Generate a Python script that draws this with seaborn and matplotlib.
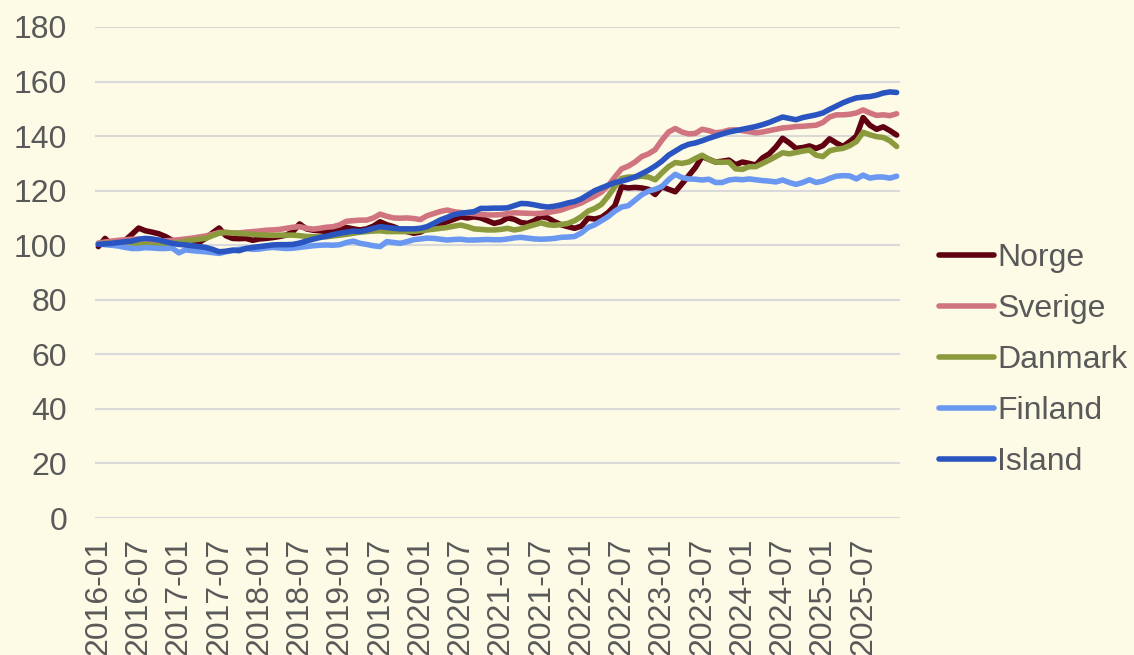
import pandas as pd
import matplotlib
matplotlib.use('Agg')
import matplotlib.pyplot as plt
import seaborn as sns

months = pd.period_range('2016-01', '2025-12', freq='M').strftime('%Y-%m').tolist()

norge = [
    99.5, 102.5, 100.0, 101.5, 101.8, 104.0, 106.3, 105.3, 104.8, 104.2, 103.2, 101.8,
    101.0, 100.5, 100.3, 101.0, 102.5, 104.5, 106.3, 103.5, 102.5, 102.4, 102.5, 101.8,
    102.3, 102.5, 102.8, 103.2, 103.7, 105.0, 107.8, 106.0, 105.5, 105.3, 105.0, 105.2,
    106.0, 106.5, 106.0, 105.6, 106.0, 107.0, 108.6, 107.5, 106.8, 105.8, 105.0, 104.4,
    104.8, 106.0, 106.8, 107.8, 108.6, 109.5, 110.4, 110.0, 110.4, 110.0, 109.0, 108.0,
    108.6, 110.0, 109.5, 108.3, 108.0, 109.0, 110.5, 110.0, 108.6, 107.5, 106.8, 106.2,
    107.0, 109.9, 109.6, 110.2, 112.0, 114.5, 121.4, 121.0, 121.2, 121.0, 120.5, 118.6,
    121.5, 120.5, 119.6, 122.5, 125.5, 128.5, 132.5, 131.5, 130.5, 130.8, 131.2, 129.5,
    130.5, 130.0, 129.4, 132.0, 133.5, 136.0, 139.2, 137.5, 135.5, 135.8, 136.4, 135.5,
    136.5, 139.0, 137.5, 136.2, 138.0, 140.0, 146.8, 144.0, 142.5, 143.4, 142.0, 140.4,
]
sverige = [
    100.8, 101.2, 101.5, 101.8, 102.0, 102.2, 102.2, 102.0, 101.8, 101.6, 101.6, 101.8,
    102.0, 102.3, 102.6, 103.0, 103.4, 104.0, 104.7, 104.7, 104.5, 104.5, 104.8, 105.0,
    105.2, 105.5, 105.6, 105.8, 106.2, 106.6, 106.8, 106.2, 105.9, 106.2, 106.6, 106.8,
    107.5, 108.8, 109.0, 109.2, 109.2, 110.0, 111.4, 110.6, 110.0, 109.9, 110.0, 109.8,
    109.4, 110.8, 111.6, 112.4, 112.9, 112.3, 112.0, 111.8, 111.6, 111.3, 111.1, 111.1,
    111.2, 111.6, 111.9, 111.8, 111.7, 111.6, 111.7, 112.0, 112.4, 112.9, 113.8, 114.6,
    115.5, 116.8, 118.0, 119.5, 121.8, 125.0, 128.0, 129.0, 130.5, 132.5, 133.5, 135.0,
    138.5, 141.5, 142.8, 141.5, 140.8, 141.0, 142.5, 142.0, 141.2, 141.5, 142.2, 142.3,
    142.0, 141.6, 141.2, 141.5, 142.0, 142.5, 143.0, 143.2, 143.5, 143.6, 143.8, 144.0,
    145.0, 147.0, 147.8, 147.8, 148.0, 148.5, 149.6, 148.5, 147.6, 147.8, 147.5, 148.2,
]
danmark = [
    100.5, 100.7, 100.7, 100.8, 100.8, 100.8, 100.5, 100.3, 100.0, 99.8, 100.3, 100.7,
    101.0, 101.5, 101.9, 102.2, 102.5, 103.5, 104.4, 104.7, 104.5, 104.3, 104.2, 104.0,
    103.8, 103.7, 103.6, 103.7, 103.7, 103.7, 103.5, 103.2, 103.1, 103.1, 103.1, 103.4,
    103.7, 104.0, 104.4, 104.8, 105.0, 105.2, 105.3, 105.0, 105.0, 105.0, 105.0, 105.1,
    105.3, 105.6, 105.9, 106.2, 106.5, 107.0, 107.4, 106.8, 106.0, 105.8, 105.6, 105.6,
    105.8, 106.2, 105.6, 106.0, 106.8, 107.5, 108.2, 107.5, 107.3, 107.6, 108.0, 109.0,
    110.5, 112.5, 113.5, 115.0, 118.0, 121.5, 124.5, 125.0, 125.0, 125.3, 125.0, 124.0,
    126.5, 128.8, 130.3, 130.0, 130.5, 131.8, 133.0, 131.5, 130.5, 130.4, 130.5, 128.0,
    127.8, 128.8, 128.8, 130.0, 131.2, 132.5, 133.9, 133.5, 134.0, 134.5, 134.9, 133.0,
    132.5, 134.6, 135.2, 135.5, 136.5, 138.0, 141.4, 140.5, 139.8, 139.5, 138.3, 136.2,
]
finland = [
    100.4, 100.2, 100.0, 99.7, 99.2, 98.8, 98.8, 99.1, 99.0, 98.8, 98.8, 99.0,
    97.2, 98.3, 98.0, 97.8, 97.6, 97.3, 97.0, 97.6, 98.0, 98.5, 98.8, 98.5,
    98.6, 99.0, 99.2, 99.0, 98.8, 98.9, 99.2, 99.5, 99.8, 100.0, 100.1, 100.0,
    100.2, 101.0, 101.5, 100.7, 100.3, 99.8, 99.5, 101.3, 101.0, 100.7, 101.3, 102.0,
    102.3, 102.6, 102.5, 102.2, 101.9, 102.1, 102.2, 101.9, 101.9, 102.0, 102.1, 102.0,
    102.0, 102.3, 102.7, 102.9, 102.6, 102.3, 102.2, 102.3, 102.5, 102.9, 103.0, 103.2,
    104.5, 106.5, 107.5, 109.0, 110.5, 112.5, 114.0, 114.5, 116.5, 118.5, 119.8, 120.5,
    121.5, 124.0, 126.0, 124.8, 124.3, 124.2, 123.9, 124.2, 123.0, 123.0, 123.9, 124.2,
    124.0, 124.3, 124.0, 123.7, 123.5, 123.2, 123.9, 123.0, 122.3, 123.0, 124.0, 123.0,
    123.5, 124.5, 125.3, 125.5, 125.4, 124.3, 125.7, 124.6, 125.0, 125.0, 124.6, 125.3,
]
island = [
    100.3, 100.5, 100.7, 101.0, 101.3, 101.5, 102.2, 102.5, 102.3, 101.9, 101.3, 100.7,
    100.3, 100.1, 99.8, 99.5, 99.2, 98.5, 97.6, 97.8, 98.2, 98.0, 98.8, 99.2,
    99.5, 99.8, 100.1, 100.2, 100.2, 100.3, 100.8, 101.5, 102.2, 102.8, 103.3, 103.9,
    104.4, 104.8, 105.2, 105.0, 105.5, 106.2, 106.8, 106.5, 106.2, 106.0, 106.0, 106.0,
    106.2, 106.8, 108.0, 109.3, 110.2, 111.2, 111.7, 112.0, 112.3, 113.5, 113.5, 113.6,
    113.6, 113.7, 114.5, 115.3, 115.2, 114.8, 114.3, 114.0, 114.3, 114.8, 115.5, 116.0,
    117.0, 118.5, 120.0, 121.0, 122.0, 123.0, 123.5, 124.2, 125.0, 126.2, 127.5, 129.0,
    130.8, 133.0, 134.5, 136.0, 137.0, 137.5, 138.3, 139.2, 140.0, 140.8, 141.5, 142.0,
    142.5, 143.0, 143.5, 144.2, 145.0, 146.0, 147.0, 146.5, 146.0, 146.8, 147.3, 147.8,
    148.5, 149.8, 151.0, 152.2, 153.2, 154.0, 154.3, 154.5, 155.0, 155.8, 156.2, 156.0,
]

countries = ['Norge', 'Sverige', 'Danmark', 'Finland', 'Island']
colors = ['#600010', '#D07580', '#8B9A3C', '#6A97F0', '#2A55C0']

df = pd.DataFrame({'month': months, 'Norge': norge, 'Sverige': sverige,
                   'Danmark': danmark, 'Finland': finland, 'Island': island})
df['pos'] = range(len(df))
long_df = df.melt(id_vars=['month', 'pos'], var_name='land', value_name='index')

bg = '#FDFBE6'
text_col = '#595959'
fs = 23
sns.set_theme(style='white')
plt.rcParams['font.family'] = ['Liberation Sans', 'DejaVu Sans']

fig = plt.figure(figsize=(11.34, 6.55), dpi=100, facecolor=bg)
ax = fig.add_axes([95 / 1134, 1 - 518 / 655, 805 / 1134, 491 / 655])
ax.set_facecolor(bg)

sns.lineplot(data=long_df, x='pos', y='index', hue='land', hue_order=countries,
             palette=dict(zip(countries, colors)), linewidth=4.0, ax=ax, legend=False,
             solid_joinstyle='round', solid_capstyle='round')

ax.set_xlim(-0.5, len(months) - 0.5)
ax.set_ylim(0, 180)
ax.set_yticks(range(0, 181, 20))
ax.yaxis.grid(True, color='#D9D9D9', linewidth=1.5)
ax.set_axisbelow(True)
for s in ax.spines.values():
    s.set_visible(False)

tick_pos = list(range(0, len(months), 6))
ax.set_xticks(tick_pos)
ax.set_xticklabels([months[i] for i in tick_pos], rotation=90)
ax.tick_params(axis='x', length=0, pad=14, labelsize=fs, labelcolor=text_col)
ax.tick_params(axis='y', length=0, pad=20, labelsize=fs, labelcolor=text_col)
ax.set_xlabel('')
ax.set_ylabel('')

handles = ax.get_lines()[:len(countries)]
leg = fig.legend(handles, countries, loc='center left',
                 bbox_to_anchor=(939 / 1134, 1 - 360 / 655), frameon=False,
                 fontsize=fs, handlelength=1.72, handletextpad=0.1,
                 labelspacing=0.66, borderpad=0, borderaxespad=0)
for t in leg.get_texts():
    t.set_color(text_col)

fig.savefig('out.png', dpi=100, facecolor=bg)
